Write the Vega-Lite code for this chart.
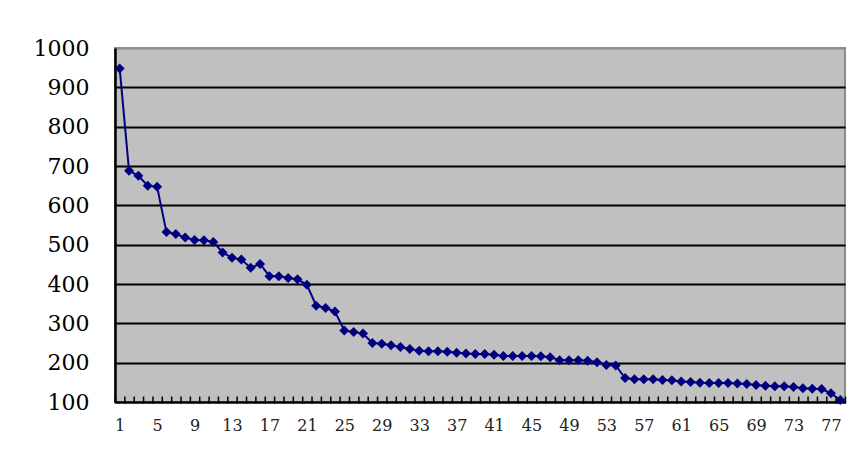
{
  "$schema": "https://vega.github.io/schema/vega-lite/v6.json",
  "width": 730,
  "height": 354,
  "autosize": {"type": "none"},
  "padding": {"left": 115, "top": 48, "right": 23, "bottom": 61},
  "background": "white",
  "config": {
    "view": {"fill": "#C0C0C0", "stroke": "#8c8c8c", "strokeWidth": 2}
  },
  "data": {
    "values": [
      {"n": 1, "v": 948}, {"n": 2, "v": 688}, {"n": 3, "v": 675}, {"n": 4, "v": 650},
      {"n": 5, "v": 647}, {"n": 6, "v": 532}, {"n": 7, "v": 527}, {"n": 8, "v": 518},
      {"n": 9, "v": 512}, {"n": 10, "v": 511}, {"n": 11, "v": 507}, {"n": 12, "v": 480},
      {"n": 13, "v": 467}, {"n": 14, "v": 462}, {"n": 15, "v": 441}, {"n": 16, "v": 451},
      {"n": 17, "v": 420}, {"n": 18, "v": 420}, {"n": 19, "v": 415}, {"n": 20, "v": 412},
      {"n": 21, "v": 398}, {"n": 22, "v": 345}, {"n": 23, "v": 339}, {"n": 24, "v": 330},
      {"n": 25, "v": 282}, {"n": 26, "v": 278}, {"n": 27, "v": 274}, {"n": 28, "v": 250},
      {"n": 29, "v": 248}, {"n": 30, "v": 244}, {"n": 31, "v": 240}, {"n": 32, "v": 235},
      {"n": 33, "v": 230}, {"n": 34, "v": 229}, {"n": 35, "v": 229}, {"n": 36, "v": 228},
      {"n": 37, "v": 225}, {"n": 38, "v": 223}, {"n": 39, "v": 222}, {"n": 40, "v": 222},
      {"n": 41, "v": 220}, {"n": 42, "v": 217}, {"n": 43, "v": 217}, {"n": 44, "v": 217},
      {"n": 45, "v": 217}, {"n": 46, "v": 216}, {"n": 47, "v": 214}, {"n": 48, "v": 206},
      {"n": 49, "v": 206}, {"n": 50, "v": 206}, {"n": 51, "v": 205}, {"n": 52, "v": 201},
      {"n": 53, "v": 194}, {"n": 54, "v": 193}, {"n": 55, "v": 161}, {"n": 56, "v": 158},
      {"n": 57, "v": 158}, {"n": 58, "v": 158}, {"n": 59, "v": 156}, {"n": 60, "v": 155},
      {"n": 61, "v": 152}, {"n": 62, "v": 151}, {"n": 63, "v": 149}, {"n": 64, "v": 148},
      {"n": 65, "v": 148}, {"n": 66, "v": 148}, {"n": 67, "v": 147}, {"n": 68, "v": 146},
      {"n": 69, "v": 143}, {"n": 70, "v": 141}, {"n": 71, "v": 140}, {"n": 72, "v": 140},
      {"n": 73, "v": 138}, {"n": 74, "v": 135}, {"n": 75, "v": 134}, {"n": 76, "v": 133},
      {"n": 77, "v": 122}, {"n": 78, "v": 105}
    ]
  },
  "encoding": {
    "x": {
      "field": "n",
      "type": "quantitative",
      "scale": {"domain": [0.5, 78.5], "nice": false, "zero": false},
      "axis": {
        "title": null,
        "offset": -6,
        "values": [0.5,1.5,2.5,3.5,4.5,5.5,6.5,7.5,8.5,9.5,10.5,11.5,12.5,13.5,14.5,15.5,16.5,17.5,18.5,19.5,20.5,21.5,22.5,23.5,24.5,25.5,26.5,27.5,28.5,29.5,30.5,31.5,32.5,33.5,34.5,35.5,36.5,37.5,38.5,39.5,40.5,41.5,42.5,43.5,44.5,45.5,46.5,47.5,48.5,49.5,50.5,51.5,52.5,53.5,54.5,55.5,56.5,57.5,58.5,59.5,60.5,61.5,62.5,63.5,64.5,65.5,66.5,67.5,68.5,69.5,70.5,71.5,72.5,73.5,74.5,75.5,76.5,77.5,78.5],
        "labelExpr": "(datum.value - 0.5) % 4 == 0 && datum.value < 78 ? format(datum.value + 0.5, 'd') : ''",
        "labelOffset": 4.7,
        "labelFlush": false,
        "labelOverlap": false,
        "labelFont": "DejaVu Serif",
        "labelFontSize": 16,
        "labelColor": "#222222",
        "labelPadding": 14,
        "ticks": true,
        "tickSize": 7,
        "tickColor": "#000000",
        "tickWidth": 1.5,
        "tickOpacity": 1,
        "tickRound": false,
        "domain": false,
        "grid": false,
        "zindex": 2
      }
    },
    "y": {
      "field": "v",
      "type": "quantitative",
      "scale": {"domain": [100, 1000], "nice": false, "zero": false},
      "axis": {
        "title": null,
        "values": [100,200,300,400,500,600,700,800,900,1000],
        "format": "d",
        "labelFont": "DejaVu Serif",
        "labelFontSize": 22,
        "labelColor": "black",
        "labelPadding": 26,
        "ticks": false,
        "domain": true,
        "domainColor": "black",
        "domainWidth": 2.5,
        "grid": true,
        "gridColor": {"condition": {"test": "datum.value == 1000", "value": "#8c8c8c"}, "value": "black"},
        "gridWidth": {"condition": {"test": "datum.value == 100", "value": 2.5}, "value": 2}
      }
    }
  },
  "layer": [
    {"mark": {"type": "line", "color": "#000080", "strokeWidth": 2}},
    {"mark": {"type": "point", "shape": "diamond", "filled": true, "color": "#000080", "opacity": 1, "size": 100}}
  ]
}
